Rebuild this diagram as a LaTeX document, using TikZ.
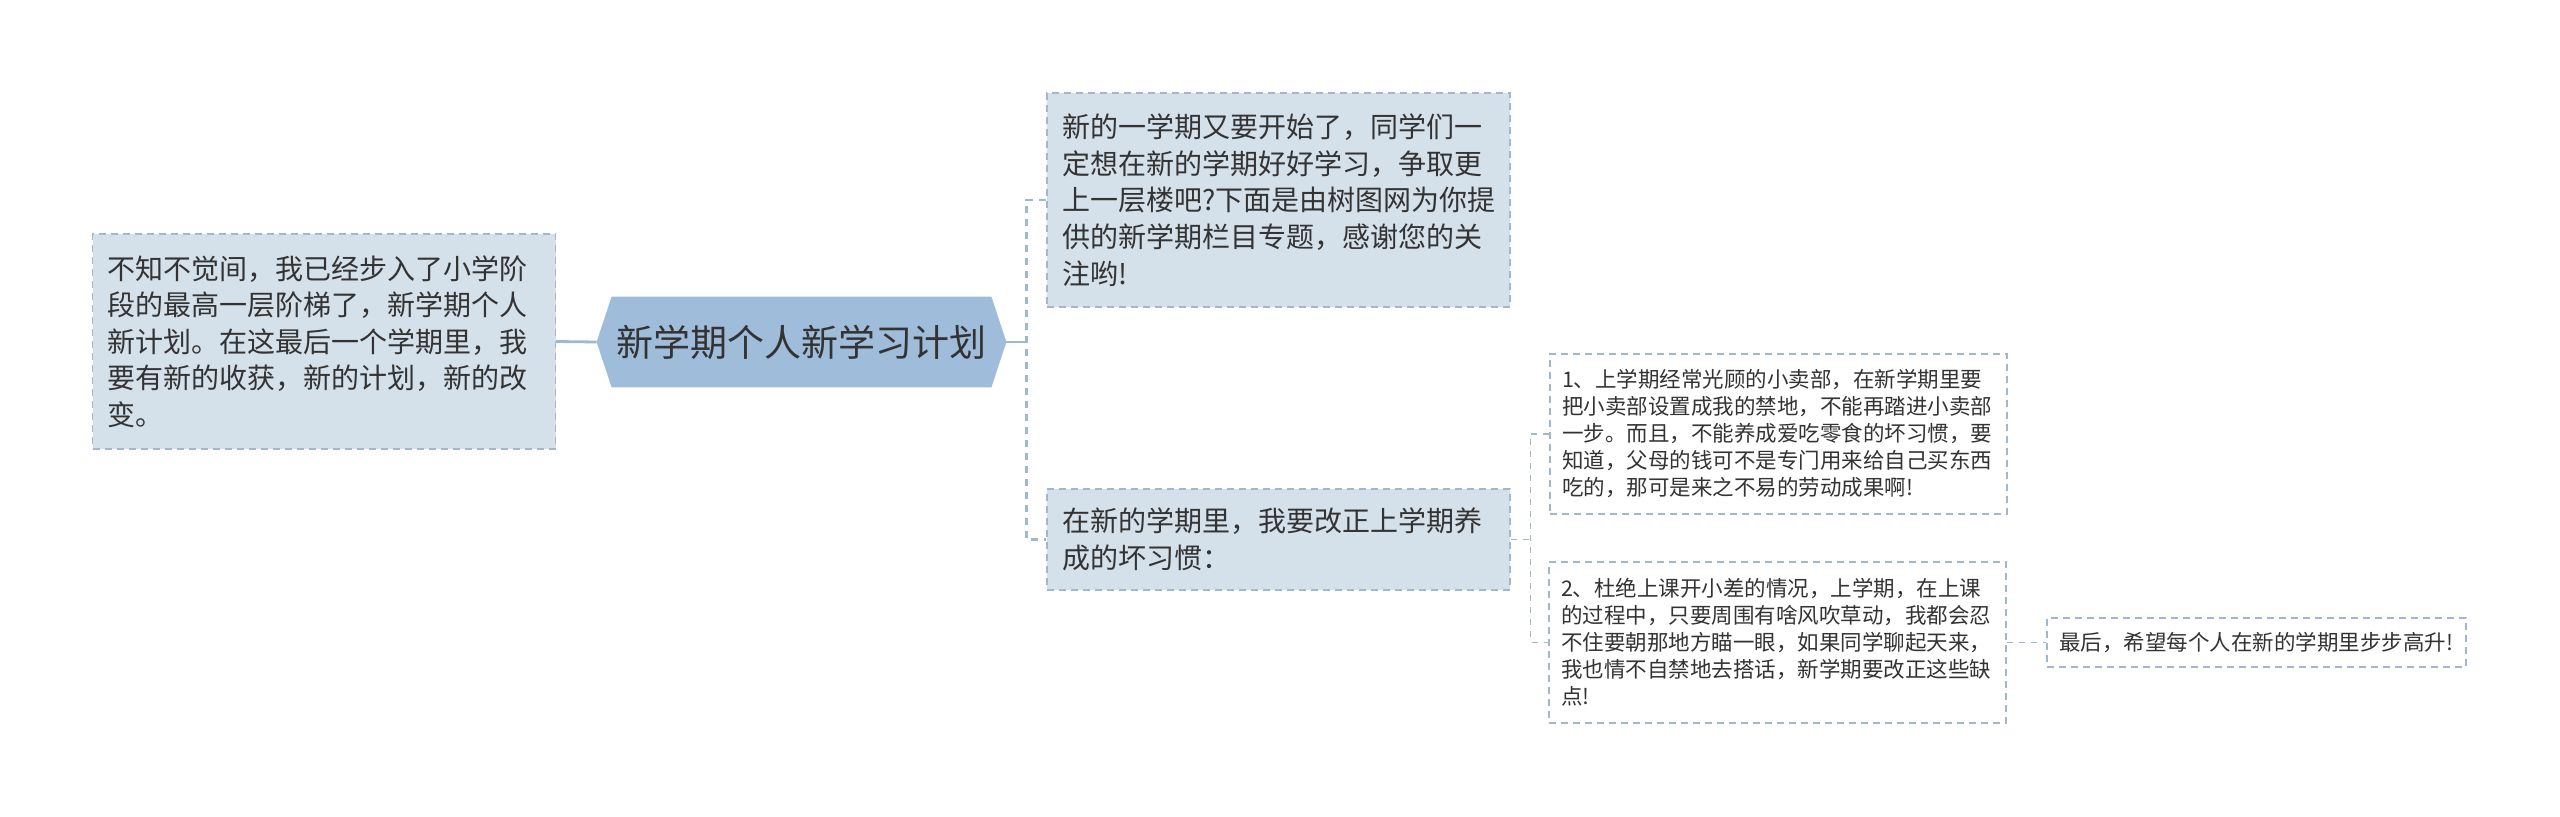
\documentclass[tikz,border=0pt]{standalone}
\usepackage{fontspec}
\setmainfont{Noto Sans CJK SC}
\usetikzlibrary{backgrounds}
\definecolor{boxfill}{HTML}{D4E0EA}
\definecolor{hexfill}{HTML}{9FBDDA}
\definecolor{boxline}{HTML}{A2B7CB}
\definecolor{linkline}{HTML}{9DB8D2}
\definecolor{inktext}{HTML}{333333}
\def\bigtext{\fontsize{14pt}{18.3pt}\selectfont}
\def\smalltext{\fontsize{10.75pt}{13.5pt}\selectfont}

\begin{document}
\begin{tikzpicture}[x=0.5pt,y=-0.5pt,
		topicbox/.style={draw=boxline, fill=boxfill, line width=0.7pt, dash pattern=on 3.5pt off 2.5pt, text=inktext, align=left, font=\bigtext, inner xsep=7.5pt, inner ysep=2pt, text width=216.5pt},
		notebox/.style={draw=boxline, fill=white, line width=0.6pt, dash pattern=on 3.5pt off 2.5pt, text=inktext, align=left, font=\smalltext, inner xsep=6pt, inner ysep=2pt},
		mainlink/.style={draw=linkline, line width=1.4pt},
		trunklink/.style={draw=linkline, line width=1.2pt, dash pattern=on 3.5pt off 3pt},
		sublink/.style={draw=boxline, line width=0.75pt, dash pattern=on 3pt off 3pt}]
			%%%%% START %%%%%
			
			\useasboundingbox (0,0) rectangle (2560,817);
			
			\node[topicbox, minimum height=107.5pt] (lead) at (324,341.5) {不知不觉间，我已经步入了小学阶\\段的最高一层阶梯了，新学期个人\\新计划。在这最后一个学期里，我\\要有新的收获，新的计划，新的改\\变。};
			
			\node[font=\fontsize{18.5pt}{22pt}\selectfont, text=inktext, minimum width=189.5pt, minimum height=45pt, inner sep=0pt] (title) at (801.5,342) {新学期个人新学习计划};
			\coordinate (titleW) at ([xshift=-7.5pt]title.west);
			\coordinate (titleE) at ([xshift=7.5pt]title.east);
			\begin{pgfonlayer}{background}
				\fill[hexfill] (titleW) -- (title.north west) -- (title.north east) -- (titleE) -- (title.south east) -- (title.south west) -- cycle;
			\end{pgfonlayer}
			
			\node[topicbox, minimum height=107pt] (intro) at (1278.5,200) {新的一学期又要开始了，同学们一\\定想在新的学期好好学习，争取更\\上一层楼吧?下面是由树图网为你提\\供的新学期栏目专题，感谢您的关\\注哟!};
			\node[topicbox, minimum height=50.5pt] (habit) at (1278.5,539.5) {在新的学期里，我要改正上学期养\\成的坏习惯：};
			
			\node[notebox, text width=216.5pt, minimum height=80pt] (shop) at (1778.5,434) {1、上学期经常光顾的小卖部，在新学期里要\\把小卖部设置成我的禁地，不能再踏进小卖部\\一步。而且，不能养成爱吃零食的坏习惯，要\\知道，父母的钱可不是专门用来给自己买东西\\吃的，那可是来之不易的劳动成果啊!};
			\node[notebox, text width=216.5pt, minimum height=80.5pt] (class) at (1777.5,642.5) {2、杜绝上课开小差的情况，上学期，在上课\\的过程中，只要周围有啥风吹草动，我都会忍\\不住要朝那地方瞄一眼，如果同学聊起天来，\\我也情不自禁地去搭话，新学期要改正这些缺\\点!};
			\node[notebox, text width=197.5pt, minimum height=24.5pt] (wish) at (2256.5,642.5) {最后，希望每个人在新的学期里步步高升!};
			
			\coordinate (fork) at ([xshift=10pt]titleE);
			\coordinate (subfork) at ([xshift=10pt]habit.east);
			
			\draw[mainlink] (lead.east) -- (titleW);
			\draw[mainlink] (titleE) -- (fork);
			\draw[trunklink] (intro.west) -| (fork) |- (habit.west);
			
			\draw[sublink] (habit.east) -- (subfork);
			\draw[sublink] (shop.west) -| (subfork) |- (class.west);
			\draw[sublink] (class.east) -- (wish.west);
			
			%%%%% END %%%%%
		\end{tikzpicture}
\end{document}
